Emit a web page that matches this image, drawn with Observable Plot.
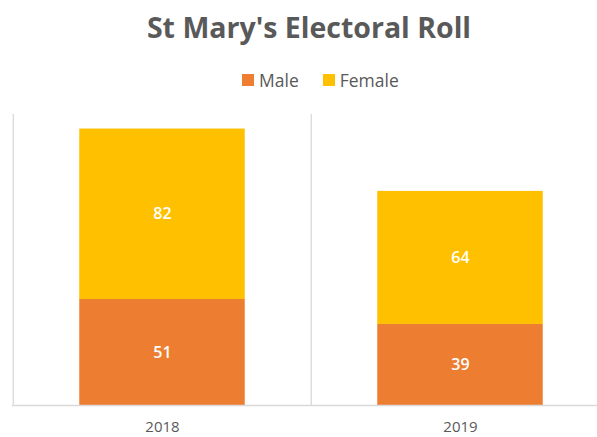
<!DOCTYPE html>
<html>
<head>
<meta charset="utf-8">
<script src="https://cdn.jsdelivr.net/npm/d3@7"></script>
<script src="https://cdn.jsdelivr.net/npm/@observablehq/plot@0.6"></script>
<style>
  body { margin: 0; background: #fff; font-family: "Open Sans", sans-serif; }
  #wrap { position: relative; width: 597px; height: 437px; overflow: hidden; }
  #head { position: relative; width: 597px; height: 100px; }
  #title { position: absolute; left: 0; width: 618px; top: 7px; text-align: center; font-size: 28.5px; font-weight: bold; color: #595959; line-height: 40px; }
  #legend { position: absolute; left: 242px; top: 68px; display: flex; align-items: center; font-size: 17.5px; color: #595959; line-height: 24px; }
  .sw { width: 12px; height: 12px; display: inline-block; margin-right: 5px; }
  .item { display: flex; align-items: center; margin-right: 24px; }
  svg { display: block; }
</style>
</head>
<body>
<div id="wrap">
  <div id="head">
    <div id="title"></div>
    <div id="legend"></div>
  </div>
  <div id="chart"></div>
</div>
<script>
const title = "St Mary's Electoral Roll";
const years = ["2018", "2019"];
const series = ["Male", "Female"];
const colors = ["#ED7D31", "#FFC000"];
const maleValues = [51, 39];
const femaleValues = [82, 64];
const yMax = 140;

const data = [];
years.forEach((yr, i) => {
  data.push({year: yr, sex: "Male", value: maleValues[i]});
  data.push({year: yr, sex: "Female", value: femaleValues[i]});
});

document.getElementById("title").textContent = title;
const leg = document.getElementById("legend");
series.forEach((s, i) => {
  const it = document.createElement("div");
  it.className = "item";
  const sw = document.createElement("span");
  sw.className = "sw";
  sw.style.background = colors[i];
  it.appendChild(sw);
  const t = document.createElement("span");
  t.textContent = s;
  it.appendChild(t);
  leg.appendChild(it);
});

const W = 597, H = 337;
const x0 = 12, x1 = 609;
const step = (x1 - x0) / years.length;
const barW = 166;
const inset = (step - barW) / 2;

const chart = Plot.plot({
  width: W,
  height: H,
  marginTop: 14,
  marginBottom: 32,
  marginLeft: 12,
  marginRight: 0,
  style: {fontFamily: "Open Sans, sans-serif", fontSize: "15px", background: "#fff", overflow: "hidden"},
  x: {domain: years, range: [x0, x1], padding: 0, label: null},
  y: {domain: [0, yMax], axis: null},
  color: {domain: series, range: colors},
  marks: [
    Plot.ruleX(years, {x: d => d, dx: -step / 2, y1: 0, y2: yMax, stroke: "#D9D9D9", strokeWidth: 1.3}),
    Plot.barY(data, {x: "year", y: "value", fill: "sex", insetLeft: inset, insetRight: inset, order: series}),
    Plot.text(data, Plot.stackY({x: "year", y: "value", z: "sex", order: series, text: d => String(d.value), fill: "white", fontSize: 16, fontWeight: 600})),
    Plot.ruleY([0], {stroke: "#D9D9D9", strokeWidth: 1.3}),
    Plot.axisX({tickSize: 0, tickPadding: 16, fontSize: 15, fill: "#595959", label: null})
  ]
});
document.getElementById("chart").appendChild(chart);
</script>
</body>
</html>
